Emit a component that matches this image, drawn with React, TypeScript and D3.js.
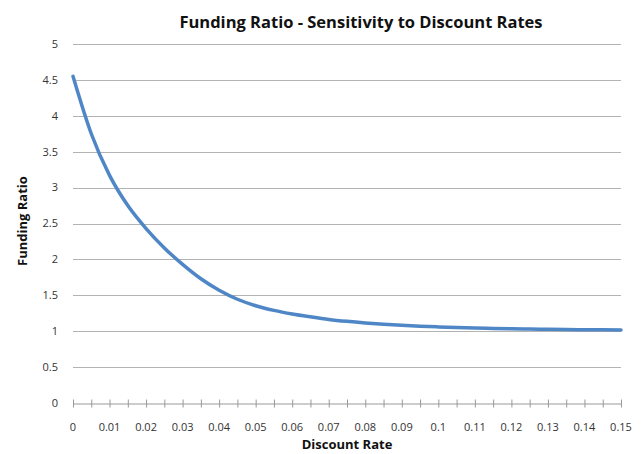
import { useEffect, useRef } from "react";
import * as d3 from "d3";

const rates = [
  0, 0.005, 0.01, 0.015, 0.02, 0.025, 0.03, 0.035, 0.04, 0.045, 0.05, 0.055,
  0.06, 0.065, 0.07, 0.075, 0.08, 0.085, 0.09, 0.095, 0.1, 0.105, 0.11, 0.115,
  0.12, 0.125, 0.13, 0.135, 0.14, 0.145, 0.15,
];
const fundingRatio = [
  4.55, 3.75, 3.17, 2.75, 2.43, 2.16, 1.93, 1.73, 1.57, 1.445, 1.355, 1.29,
  1.24, 1.2, 1.164, 1.137, 1.115, 1.097, 1.082, 1.07, 1.06, 1.052, 1.045,
  1.039, 1.034, 1.03, 1.026, 1.023, 1.021, 1.019, 1.017,
];
const xTickLabels = [
  "0", "0.01", "0.02", "0.03", "0.04", "0.05", "0.06", "0.07", "0.08",
  "0.09", "0.1", "0.11", "0.12", "0.13", "0.14", "0.15",
];
const yTicks = [0, 0.5, 1, 1.5, 2, 2.5, 3, 3.5, 4, 4.5, 5];

export default function App() {
  const ref = useRef<SVGSVGElement>(null);
  const width = 643;
  const height = 454;
  const margin = { left: 73, right: 22, top: 44, bottom: 51 };

  useEffect(() => {
    const svg = d3.select(ref.current);
    svg.selectAll("*").remove();

    const x = d3
      .scaleLinear()
      .domain([0, 0.15])
      .range([margin.left, width - margin.right]);
    const y = d3
      .scaleLinear()
      .domain([0, 5])
      .range([height - margin.bottom, margin.top]);

    const font = "Open Sans, Liberation Sans, sans-serif";

    // gridlines
    svg
      .append("g")
      .selectAll("line")
      .data(yTicks.filter((d) => d > 0))
      .enter()
      .append("line")
      .attr("x1", margin.left)
      .attr("x2", width - margin.right)
      .attr("y1", (d) => Math.round(y(d)) + 0.5)
      .attr("y2", (d) => Math.round(y(d)) + 0.5)
      .attr("stroke", "#b3b3b3")
      .attr("stroke-width", 1);

    // y labels
    svg
      .append("g")
      .selectAll("text")
      .data(yTicks)
      .enter()
      .append("text")
      .attr("x", 58)
      .attr("y", (d) => y(d))
      .attr("dy", "0.35em")
      .attr("text-anchor", "end")
      .attr("font-family", font)
      .attr("font-size", 11)
      .attr("fill", "#333")
      .text((d) => String(d));

    // x axis
    const xAxis = d3
      .axisBottom(x)
      .tickValues(d3.range(0, 31).map((i) => i * 0.005))
      .tickSizeInner(4)
      .tickSizeOuter(0)
      .tickFormat(() => "");
    const gx = svg
      .append("g")
      .attr("transform", `translate(0,${Math.round(y(0)) + 0.5})`)
      .call(xAxis);
    gx.select(".domain").attr("stroke", "#999");
    gx.selectAll(".tick line")
      .attr("stroke", "#999")
      .attr("y1", -4)
      .attr("y2", 4);

    svg
      .append("g")
      .selectAll("text")
      .data(xTickLabels)
      .enter()
      .append("text")
      .attr("x", (d) => x(+d))
      .attr("y", 431)
      .attr("text-anchor", "middle")
      .attr("font-family", font)
      .attr("font-size", 11)
      .attr("fill", "#333")
      .text((d) => d);

    // line
    const line = d3
      .line<number>()
      .x((_, i) => x(rates[i]))
      .y((d) => y(d))
      .curve(d3.curveMonotoneX);
    svg
      .append("path")
      .datum(fundingRatio)
      .attr("d", line)
      .attr("fill", "none")
      .attr("stroke", "#4f86c6")
      .attr("stroke-width", 3.5)
      .attr("stroke-linecap", "round");

    // titles
    svg
      .append("text")
      .attr("x", 361)
      .attr("y", 28)
      .attr("text-anchor", "middle")
      .attr("font-family", font)
      .attr("font-weight", "bold")
      .attr("font-size", 16.5)
      .attr("fill", "#111")
      .text("Funding Ratio - Sensitivity to Discount Rates");

    svg
      .append("text")
      .attr("x", 347)
      .attr("y", 449)
      .attr("text-anchor", "middle")
      .attr("font-family", font)
      .attr("font-weight", "bold")
      .attr("font-size", 13)
      .attr("fill", "#111")
      .text("Discount Rate");

    svg
      .append("text")
      .attr("transform", "translate(27,221) rotate(-90)")
      .attr("text-anchor", "middle")
      .attr("font-family", font)
      .attr("font-weight", "bold")
      .attr("font-size", 13)
      .attr("fill", "#111")
      .text("Funding Ratio");
  }, []);

  return (
    <svg
      ref={ref}
      width={width}
      height={height}
      style={{ position: "absolute", left: 0, top: 0, background: "#fff" }}
    />
  );
}
